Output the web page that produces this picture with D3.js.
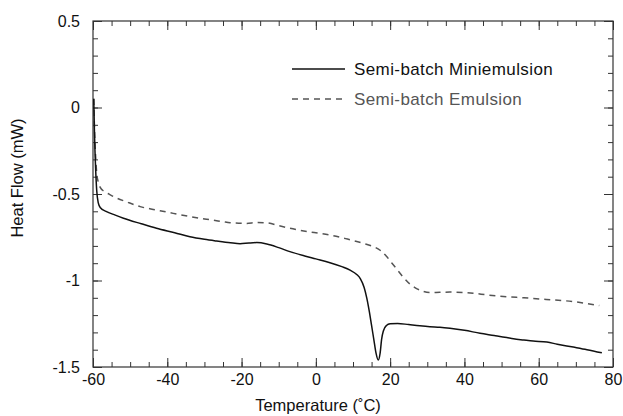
<!DOCTYPE html>
<html>
<head>
<meta charset="utf-8">
<script src="https://cdn.jsdelivr.net/npm/d3@7"></script>
<style>
  body { margin: 0; background: #fff; }
  svg { display: block; font-family: "Liberation Sans", Arial, sans-serif; }
</style>
</head>
<body>
<svg id="chart" width="623" height="416"></svg>
<script>
// values
var tempMini = [-59.8, -59.6, -59.3, -59.0, -58.6, -58.0, -56.5, -54, -51.8, -47, -42.9, -38, -33.9, -30, -26.7, -23, -20.4, -18, -15.9, -13.2, -10, -7, -3, 0, 3.8, 7, 9.2, 11, 12, 13, 13.7, 14.4, 15.0, 15.6, 16.2, 16.8, 17.3, 17.7, 18.2, 19.0, 20, 22, 25, 28, 30.7, 33.4, 36.1, 40, 44.2, 48, 51.4, 53.2, 56, 58.5, 62.2, 65, 69.3, 73, 77];
var heatMini = [0.05, -0.15, -0.35, -0.48, -0.55, -0.58, -0.60, -0.622, -0.64, -0.672, -0.698, -0.724, -0.747, -0.762, -0.772, -0.782, -0.787, -0.783, -0.781, -0.789, -0.81, -0.833, -0.858, -0.875, -0.897, -0.92, -0.94, -0.965, -0.99, -1.04, -1.10, -1.18, -1.26, -1.34, -1.42, -1.46, -1.42, -1.34, -1.29, -1.26, -1.25, -1.248, -1.255, -1.262, -1.267, -1.27, -1.276, -1.288, -1.305, -1.318, -1.33, -1.337, -1.344, -1.35, -1.356, -1.368, -1.385, -1.40, -1.418];

var tempEmul = [-59.8, -59.6, -59.3, -59.0, -58.6, -58.1, -57, -56, -54, -51, -47.3, -43, -38.4, -34, -29.4, -25, -23.1, -18.6, -16, -13.2, -10, -7, -2, 3.8, 8, 12.8, 15, 17.3, 19, 20.5, 22, 23.5, 25.3, 27, 28.5, 30.7, 33.4, 36.1, 40, 42.4, 46, 51.4, 56, 60.4, 64, 69.3, 73, 76.3];
var heatEmul = [0.05, -0.12, -0.28, -0.38, -0.43, -0.46, -0.485, -0.497, -0.52, -0.545, -0.573, -0.592, -0.612, -0.63, -0.646, -0.66, -0.666, -0.67, -0.665, -0.667, -0.683, -0.698, -0.718, -0.737, -0.758, -0.785, -0.8, -0.825, -0.86, -0.9, -0.94, -0.98, -1.02, -1.045, -1.06, -1.07, -1.068, -1.067, -1.07, -1.074, -1.083, -1.094, -1.10, -1.107, -1.112, -1.122, -1.133, -1.145];

var xMajor = [-60, -40, -20, 0, 20, 40, 60, 80];
var yMajor = [0.5, 0, -0.5, -1, -1.5];
var seriesNames = ["Semi-batch Miniemulsion", "Semi-batch Emulsion"];

var svg = d3.select('#chart');
var mLeft = 93, mRight = 613, mTop = 21, mBottom = 367;
var w = mRight - mLeft, h = mBottom - mTop;

var x = d3.scaleLinear().domain([-60, 80]).range([0, w]);
var y = d3.scaleLinear().domain([-1.5, 0.5]).range([h, 0]);

var g = svg.append('g').attr('transform', 'translate(' + mLeft + ',' + mTop + ')');

var xMinor = d3.range(-60, 80.1, 5);
var yMinor = d3.range(-15, 5.1, 1).map(function(d){ return d / 10; });

// plain hyphen minus like the reference
function fmt(d){ return String(d); }

// major + minor ticks, all pointing inward
var axes = [
  { a: d3.axisBottom(x).tickValues(xMajor).tickSize(-9).tickPadding(7).tickFormat(fmt), t: [0, h] },
  { a: d3.axisBottom(x).tickValues(xMinor).tickSize(-5).tickFormat(''), t: [0, h] },
  { a: d3.axisTop(x).tickValues(xMajor).tickSize(-9).tickFormat(''), t: [0, 0] },
  { a: d3.axisTop(x).tickValues(xMinor).tickSize(-5).tickFormat(''), t: [0, 0] },
  { a: d3.axisLeft(y).tickValues(yMajor).tickSize(-9).tickPadding(13).tickFormat(fmt), t: [0, 0] },
  { a: d3.axisLeft(y).tickValues(yMinor).tickSize(-5).tickFormat(''), t: [0, 0] },
  { a: d3.axisRight(y).tickValues(yMajor).tickSize(-9).tickFormat(''), t: [w, 0] },
  { a: d3.axisRight(y).tickValues(yMinor).tickSize(-5).tickFormat(''), t: [w, 0] }
];
axes.forEach(function(ax){
  var sel = g.append('g')
    .attr('transform', 'translate(' + ax.t[0] + ',' + ax.t[1] + ')')
    .call(ax.a);
  sel.select('.domain').remove();
  sel.selectAll('line').attr('stroke', '#333').attr('stroke-width', 1);
  sel.selectAll('text').attr('font-size', 16).attr('fill', '#111')
    .attr('font-family', '"Liberation Sans", Arial, sans-serif');
});

g.append('rect')
  .attr('width', w).attr('height', h)
  .attr('fill', 'none').attr('stroke', '#333').attr('stroke-width', 1.2);

var line = d3.line()
  .curve(d3.curveMonotoneX)
  .x(function(d){ return x(d[0]); })
  .y(function(d){ return y(d[1]); });

var miniPts = tempMini.map(function(t, i){ return [t, heatMini[i]]; });
var emulPts = tempEmul.map(function(t, i){ return [t, heatEmul[i]]; });

g.append('path').datum(emulPts)
  .attr('d', line)
  .attr('fill', 'none')
  .attr('stroke', '#555')
  .attr('stroke-width', 1.5)
  .attr('stroke-dasharray', '6,5');

g.append('path').datum(miniPts)
  .attr('d', line)
  .attr('fill', 'none')
  .attr('stroke', '#111')
  .attr('stroke-width', 1.5);

// legend
var legend = svg.append('g');
legend.append('line').attr('x1', 292).attr('x2', 345).attr('y1', 69).attr('y2', 69)
  .attr('stroke', '#111').attr('stroke-width', 1.3);
legend.append('text').attr('x', 354).attr('y', 69).attr('dy', '0.35em')
  .attr('font-size', 17).attr('letter-spacing', 0.4).attr('fill', '#111').text(seriesNames[0]);
legend.append('line').attr('x1', 292).attr('x2', 345).attr('y1', 99).attr('y2', 99)
  .attr('stroke', '#555').attr('stroke-width', 1.3).attr('stroke-dasharray', '6,5');
legend.append('text').attr('x', 354).attr('y', 99).attr('dy', '0.35em')
  .attr('font-size', 17).attr('letter-spacing', 0.4).attr('fill', '#555').text(seriesNames[1]);

// axis titles
svg.append('text')
  .attr('x', 318).attr('y', 411)
  .attr('text-anchor', 'middle').attr('font-size', 16.5).attr('fill', '#111')
  .text('Temperature (˚C)');
svg.append('text')
  .attr('transform', 'translate(23,178) rotate(-90)')
  .attr('text-anchor', 'middle').attr('font-size', 16.5).attr('fill', '#111')
  .text('Heat Flow (mW)');
</script>
</body>
</html>
